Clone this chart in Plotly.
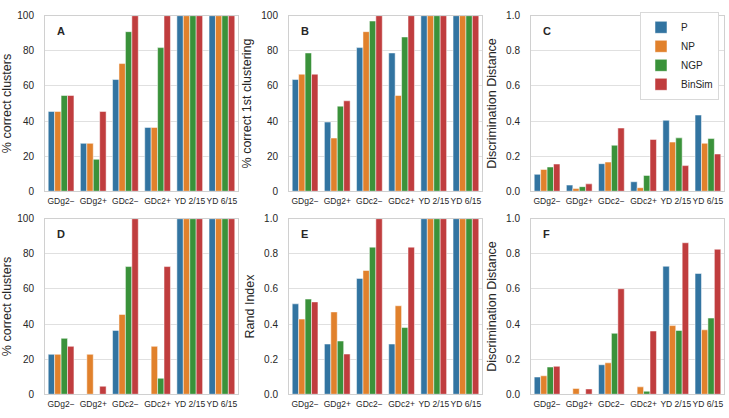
import plotly.graph_objects as go

categories = ["GDg2\u2212", "GDg2+", "GDc2\u2212", "GDc2+", "YD 2/15", "YD 6/15"]
methods = ["P", "NP", "NGP", "BinSim"]
colors = ["#3274a1", "#e1812c", "#3a923a", "#c03d3e"]

# Panel A: % correct clusters
A_P = [45.45, 27.27, 63.64, 36.36, 100, 100]
A_NP = [45.45, 27.27, 72.73, 36.36, 100, 100]
A_NGP = [54.55, 18.18, 90.91, 81.82, 100, 100]
A_BinSim = [54.55, 45.45, 100, 100, 100, 100]

# Panel B: % correct 1st clustering
B_P = [63.64, 39.39, 81.82, 78.79, 100, 100]
B_NP = [66.67, 30.30, 90.91, 54.55, 100, 100]
B_NGP = [78.79, 48.48, 96.97, 87.88, 100, 100]
B_BinSim = [66.67, 51.52, 100, 100, 100, 100]

# Panel C: Discrimination Distance
C_P = [0.096, 0.035, 0.157, 0.054, 0.404, 0.434]
C_NP = [0.124, 0.015, 0.166, 0.020, 0.280, 0.273]
C_NGP = [0.138, 0.026, 0.262, 0.090, 0.304, 0.300]
C_BinSim = [0.155, 0.042, 0.360, 0.295, 0.146, 0.212]

# Panel D: % correct clusters
D_P = [22.73, 0, 36.36, 0, 100, 100]
D_NP = [22.73, 22.73, 45.45, 27.27, 100, 100]
D_NGP = [31.82, 0, 72.73, 9.09, 100, 100]
D_BinSim = [27.27, 4.55, 100, 72.73, 100, 100]

# Panel E: Rand Index
E_P = [0.515, 0.286, 0.660, 0.286, 1.0, 1.0]
E_NP = [0.428, 0.469, 0.705, 0.504, 1.0, 1.0]
E_NGP = [0.542, 0.303, 0.838, 0.380, 1.0, 1.0]
E_BinSim = [0.526, 0.229, 1.0, 0.838, 1.0, 1.0]

# Panel F: Discrimination Distance
F_P = [0.098, 0, 0.168, 0, 0.729, 0.688]
F_NP = [0.105, 0.033, 0.179, 0.042, 0.391, 0.367]
F_NGP = [0.155, 0, 0.347, 0.017, 0.363, 0.434]
F_BinSim = [0.159, 0.030, 0.601, 0.360, 0.863, 0.826]

panels = [
    ("A", [A_P, A_NP, A_NGP, A_BinSim], "% correct clusters", 100),
    ("B", [B_P, B_NP, B_NGP, B_BinSim], "% correct 1st clustering", 100),
    ("C", [C_P, C_NP, C_NGP, C_BinSim], "Discrimination Distance", 1.0),
    ("D", [D_P, D_NP, D_NGP, D_BinSim], "% correct clusters", 100),
    ("E", [E_P, E_NP, E_NGP, E_BinSim], "Rand Index", 1.0),
    ("F", [F_P, F_NP, F_NGP, F_BinSim], "Discrimination Distance", 1.0),
]

W, H = 729, 418
col_x = [(45, 238), (289, 482), (531, 724)]
row_y = [(10, 190.7), (219, 399.7)]

FONT = "Liberation Sans, Arial, sans-serif"
NARROW = "Liberation Sans Narrow, Arial Narrow, Liberation Sans, sans-serif"
TXT = "#262626"
fig = go.Figure()
layout = dict(
    width=W, height=H,
    margin=dict(l=0, r=0, t=0, b=0),
    paper_bgcolor="white", plot_bgcolor="white",
    barmode="group", bargap=0.2, bargroupgap=0,
    font=dict(family=FONT, color=TXT),
    showlegend=True,
    legend=dict(x=719 / W, y=1 - 6 / H, xanchor="right", yanchor="top",
                bgcolor="white", bordercolor="#d9d9d9", borderwidth=1,
                font=dict(size=10, family=FONT, color=TXT),
                itemwidth=30, tracegroupgap=0),
)
annotations = []
for i, (label, series, ytitle, ymax) in enumerate(panels):
    r, c = divmod(i, 3)
    n = i + 1
    xa = "x" if n == 1 else f"x{n}"
    ya = "y" if n == 1 else f"y{n}"
    x0, x1 = col_x[c]
    y0, y1 = row_y[r]
    for j, m in enumerate(methods):
        fig.add_trace(go.Bar(
            x=categories, y=series[j], name=m,
            marker=dict(color=colors[j], line=dict(width=0.5, color="white")),
            xaxis=xa, yaxis=ya, showlegend=(i == 0),
            offsetgroup=str(j),
        ))
    axkey_x = "xaxis" if n == 1 else f"xaxis{n}"
    axkey_y = "yaxis" if n == 1 else f"yaxis{n}"
    layout[axkey_x] = dict(
        domain=[x0 / W, x1 / W], anchor=ya,
        showgrid=False, showline=True, mirror=True, linecolor="#d0d0d0", linewidth=1,
        ticks="", tickangle=0, ticklabelstandoff=2,
        tickfont=dict(size=8.5, family=NARROW, color=TXT), fixedrange=True,
        categoryorder="array", categoryarray=categories,
    )
    if ymax == 100:
        yt = dict(range=[0, 100], tickvals=[0, 20, 40, 60, 80, 100])
    else:
        yt = dict(range=[0, 1.0], tickvals=[0, 0.2, 0.4, 0.6, 0.8, 1.0], tickformat=".1f")
    layout[axkey_y] = dict(
        domain=[1 - y1 / H, 1 - y0 / H], anchor=xa,
        showgrid=True, gridcolor="#e0e0e0", gridwidth=1,
        showline=True, mirror=True, linecolor="#d0d0d0", linewidth=1,
        zeroline=False, ticks="", ticklabelstandoff=8,
        tickfont=dict(size=10, family=NARROW, color=TXT),
        title=dict(text=ytitle, font=dict(size=12.5, color=TXT), standoff=6),
        **yt,
    )
    annotations.append(dict(
        text=f"<b>{label}</b>", xref=f"{xa} domain", yref=f"{ya} domain",
        x=0.05, y=0.915, xanchor="left", yanchor="middle", showarrow=False,
        font=dict(size=11, color=TXT, family=FONT),
    ))
layout["annotations"] = annotations
fig.update_layout(**layout)
fig.write_html("out.html", config={"displayModeBar": False},
               post_script="document.body.style.margin='0';document.body.style.padding='0';")
